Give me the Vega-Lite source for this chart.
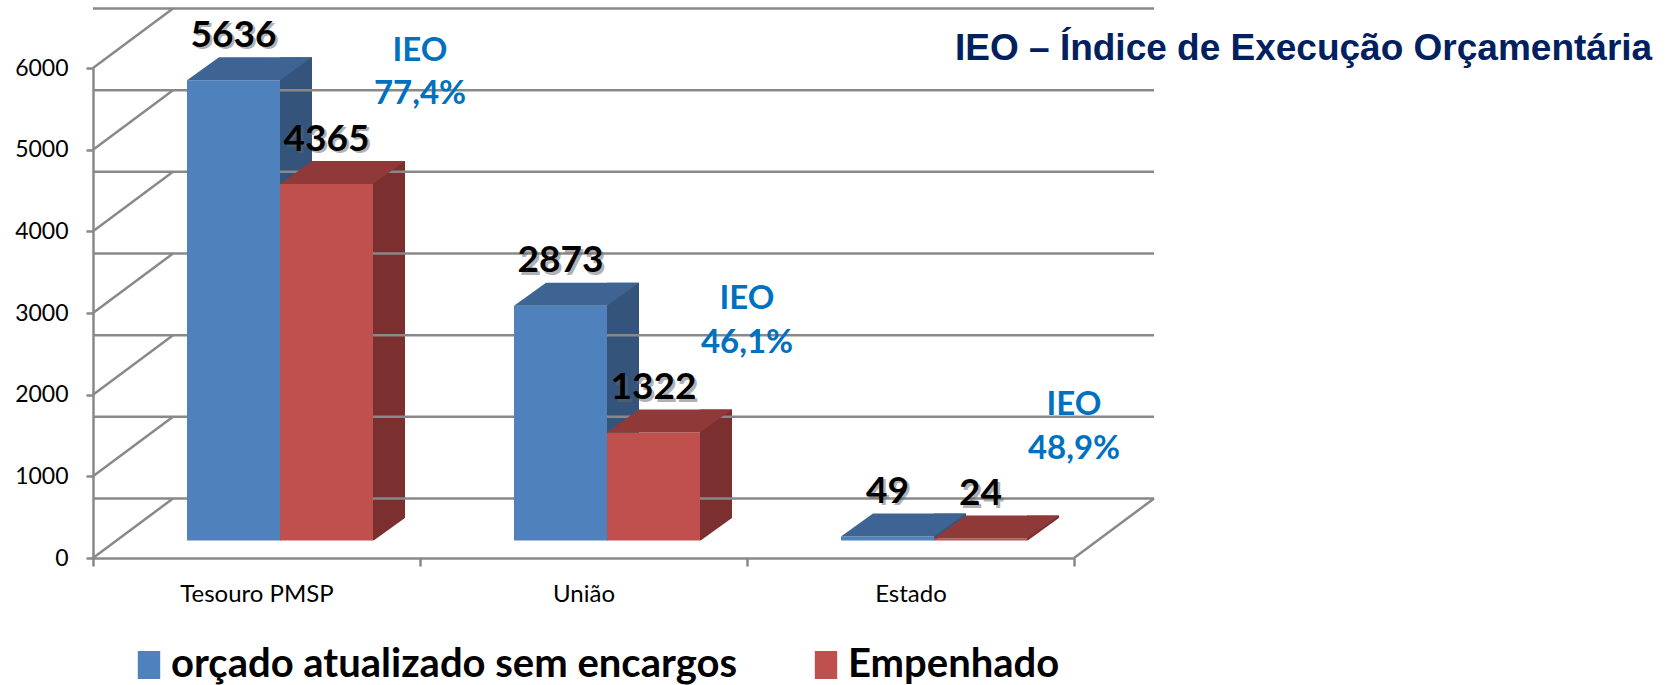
{
  "$schema": "https://vega.github.io/schema/vega-lite/v6.json",
  "width": 981,
  "height": 490,
  "autosize": {"type": "none"},
  "padding": {"left": 93, "top": 68, "right": 602, "bottom": 127},
  "background": "white",
  "config": {"view": {"stroke": null}, "font": "Lato"},
  "title": {
    "text": "IEO – Índice de Execução Orçamentária",
    "anchor": "start", "frame": "group", "orient": "top",
    "font": "Liberation Sans", "fontSize": 37, "fontWeight": "bold",
    "color": "#002060", "baseline": "alphabetic", "offset": -40, "dx": 862, "dy": 50
  },
  "datasets": {
    "bars": [
      {"cat": "Tesouro PMSP", "series": "orçado atualizado sem encargos", "value": 5636},
      {"cat": "Tesouro PMSP", "series": "Empenhado", "value": 4365, "ieo": "77,4%"},
      {"cat": "União", "series": "orçado atualizado sem encargos", "value": 2873},
      {"cat": "União", "series": "Empenhado", "value": 1322, "ieo": "46,1%"},
      {"cat": "Estado", "series": "orçado atualizado sem encargos", "value": 49},
      {"cat": "Estado", "series": "Empenhado", "value": 24, "ieo": "48,9%"}
    ],
    "grid": [{"v": 0}, {"v": 1000}, {"v": 2000}, {"v": 3000}, {"v": 4000}, {"v": 5000}, {"v": 6000}],
    "floor": [{"v": 0}]
  },
  "layer": [
    {
      "data": {"name": "bars"},
      "transform": [{"filter": "datum.series === 'orçado atualizado sem encargos'"}],
      "mark": {"type": "bar", "width": 32, "color": "#34547B", "xOffset": 39.5, "yOffset": -40.5, "y2Offset": -17.5},
      "encoding": {
        "x": {"field": "cat", "type": "nominal", "sort": ["Tesouro PMSP", "União", "Estado"], "title": null,
              "scale": {"paddingInner": 0, "paddingOuter": 0},
              "axis": {"domainColor": "#898989", "domainWidth": 2.5, "tickColor": "#898989", "tickWidth": 2.5, "tickSize": 8,
                       "tickBand": "extent", "labelFont": "Lato", "labelFontSize": 24, "labelColor": "#000",
                       "labelBaseline": "alphabetic", "labelPadding": 35, "labelAngle": 0, "grid": false}},
        "y": {"field": "value", "type": "quantitative", "title": null, "scale": {"domain": [0, 6000], "nice": false},
              "axis": {"values": [0, 1000, 2000, 3000, 4000, 5000, 6000], "format": "d", "domainColor": "#898989", "domainWidth": 2.5,
                       "tickColor": "#898989", "tickWidth": 2.5, "tickSize": 7, "labelFont": "Lato", "labelFontSize": 23,
                       "labelColor": "#000", "labelPadding": 18, "grid": false}},
        "y2": {"datum": 0}
      }
    },
    {
      "data": {"name": "bars"},
      "transform": [{"filter": "datum.series === 'Empenhado'"}],
      "mark": {"type": "bar", "width": 32, "color": "#7B2F2F", "xOffset": 132.5, "yOffset": -40.5, "y2Offset": -17.5},
      "encoding": {
        "x": {"field": "cat", "type": "nominal", "sort": ["Tesouro PMSP", "União", "Estado"], "title": null},
        "y": {"field": "value", "type": "quantitative", "title": null, "scale": {"domain": [0, 6000], "nice": false}},
        "y2": {"datum": 0}
      }
    },
    {
      "data": {"name": "bars"},
      "transform": [{"filter": "datum.series === 'orçado atualizado sem encargos'"}],
      "mark": {"type": "point", "shape": "M0,0.6L32.6,0.6L32.6,-23Z", "size": 4, "filled": true, "color": "white", "opacity": 1, "strokeWidth": 0, "xOffset": 23.5, "yOffset": -17.5},
      "encoding": {
        "x": {"field": "cat", "type": "nominal", "sort": ["Tesouro PMSP", "União", "Estado"], "title": null},
        "y": {"datum": 0, "type": "quantitative", "title": null, "scale": {"domain": [0, 6000], "nice": false}}
      }
    },
    {
      "data": {"name": "bars"},
      "transform": [{"filter": "datum.series === 'Empenhado'"}],
      "mark": {"type": "point", "shape": "M0,0.6L32.6,0.6L32.6,-23Z", "size": 4, "filled": true, "color": "white", "opacity": 1, "strokeWidth": 0, "xOffset": 116.5, "yOffset": -17.5},
      "encoding": {
        "x": {"field": "cat", "type": "nominal", "sort": ["Tesouro PMSP", "União", "Estado"], "title": null},
        "y": {"datum": 0, "type": "quantitative", "title": null, "scale": {"domain": [0, 6000], "nice": false}}
      }
    },
    {
      "data": {"name": "grid"},
      "mark": {"type": "rule", "color": "#898989", "strokeWidth": 2.5, "xOffset": 80, "x2Offset": 80, "yOffset": -59.5},
      "encoding": {
        "y": {"field": "v", "type": "quantitative", "title": null, "scale": {"domain": [0, 6000], "nice": false}}
      }
    },
    {
      "data": {"name": "grid"},
      "mark": {"type": "rule", "color": "#898989", "strokeWidth": 2.5, "x2Offset": 80, "y2Offset": -59.5},
      "encoding": {
        "x": {"datum": "Tesouro PMSP", "type": "nominal", "bandPosition": 0, "title": null},
        "x2": {"datum": "Tesouro PMSP", "bandPosition": 0},
        "y": {"field": "v", "type": "quantitative", "title": null, "scale": {"domain": [0, 6000], "nice": false}},
        "y2": {"field": "v"}
      }
    },
    {
      "data": {"name": "floor"},
      "mark": {"type": "rule", "color": "#898989", "strokeWidth": 2.5, "x2Offset": 80, "y2Offset": -59.5},
      "encoding": {
        "x": {"datum": "Estado", "type": "nominal", "bandPosition": 1, "title": null},
        "x2": {"datum": "Estado", "bandPosition": 1},
        "y": {"field": "v", "type": "quantitative", "title": null, "scale": {"domain": [0, 6000], "nice": false}},
        "y2": {"field": "v"}
      }
    },
    {
      "data": {"name": "bars"},
      "transform": [{"filter": "datum.series === 'orçado atualizado sem encargos'"}],
      "mark": {"type": "bar", "width": 93, "xOffset": -23, "yOffset": -17.5, "y2Offset": -17.5, "opacity": 1},
      "encoding": {
        "x": {"field": "cat", "type": "nominal", "sort": ["Tesouro PMSP", "União", "Estado"], "title": null},
        "y": {"field": "value", "type": "quantitative", "title": null, "scale": {"domain": [0, 6000], "nice": false}},
        "y2": {"datum": 0},
        "color": {"field": "series", "type": "nominal",
                  "scale": {"domain": ["orçado atualizado sem encargos", "Empenhado"], "range": ["#4F81BD", "#C0504D"]},
                  "legend": {"orient": "none", "legendX": 36, "legendY": 577, "direction": "horizontal", "title": null,
                             "labelFont": "Lato", "labelFontSize": 40, "labelFontWeight": "bold", "labelColor": "#000",
                             "labelLimit": 0, "symbolType": "M-0.8,-1L0.8,-1L0.8,1L-0.8,1Z", "symbolSize": 784,
                             "symbolStrokeWidth": 0, "symbolOpacity": 1, "labelOffset": 2, "columnPadding": 69}}
      }
    },
    {
      "data": {"name": "bars"},
      "transform": [{"filter": "datum.series === 'Empenhado'"}],
      "mark": {"type": "bar", "width": 93, "xOffset": 70, "yOffset": -17.5, "y2Offset": -17.5, "opacity": 1},
      "encoding": {
        "x": {"field": "cat", "type": "nominal", "sort": ["Tesouro PMSP", "União", "Estado"], "title": null},
        "y": {"field": "value", "type": "quantitative", "title": null, "scale": {"domain": [0, 6000], "nice": false}},
        "y2": {"datum": 0},
        "color": {"field": "series", "type": "nominal",
                  "scale": {"domain": ["orçado atualizado sem encargos", "Empenhado"], "range": ["#4F81BD", "#C0504D"]}}
      }
    },
    {
      "data": {"name": "bars"},
      "transform": [{"filter": "datum.series === 'orçado atualizado sem encargos'"}],
      "mark": {"type": "point", "shape": "M-46.5,0L46.5,0L78.5,-23L-14.5,-23Z", "size": 4, "filled": true, "color": "#3E6494", "opacity": 1, "strokeWidth": 0, "xOffset": -23, "yOffset": -17.5},
      "encoding": {
        "x": {"field": "cat", "type": "nominal", "sort": ["Tesouro PMSP", "União", "Estado"], "title": null},
        "y": {"field": "value", "type": "quantitative", "title": null, "scale": {"domain": [0, 6000], "nice": false}}
      }
    },
    {
      "data": {"name": "bars"},
      "transform": [{"filter": "datum.series === 'Empenhado'"}],
      "mark": {"type": "point", "shape": "M-46.5,0L46.5,0L78.5,-23L-14.5,-23Z", "size": 4, "filled": true, "color": "#8F3A39", "opacity": 1, "strokeWidth": 0, "xOffset": 70, "yOffset": -17.5},
      "encoding": {
        "x": {"field": "cat", "type": "nominal", "sort": ["Tesouro PMSP", "União", "Estado"], "title": null},
        "y": {"field": "value", "type": "quantitative", "title": null, "scale": {"domain": [0, 6000], "nice": false}}
      }
    },
    {
      "data": {"name": "bars"},
      "transform": [{"filter": "datum.series === 'orçado atualizado sem encargos'"}],
      "mark": {"type": "text", "font": "Lato", "fontSize": 37, "fontWeight": "bold", "color": "#666", "opacity": 0.5, "baseline": "alphabetic", "align": "center", "xOffset": -20.5, "yOffset": -48.5},
      "encoding": {
        "x": {"field": "cat", "type": "nominal", "sort": ["Tesouro PMSP", "União", "Estado"], "title": null},
        "y": {"field": "value", "type": "quantitative", "title": null, "scale": {"domain": [0, 6000], "nice": false}},
        "text": {"field": "value", "type": "quantitative", "format": "d"}
      }
    },
    {
      "data": {"name": "bars"},
      "transform": [{"filter": "datum.series === 'Empenhado'"}],
      "mark": {"type": "text", "font": "Lato", "fontSize": 37, "fontWeight": "bold", "color": "#666", "opacity": 0.5, "baseline": "alphabetic", "align": "center", "xOffset": 72.5, "yOffset": -48.5},
      "encoding": {
        "x": {"field": "cat", "type": "nominal", "sort": ["Tesouro PMSP", "União", "Estado"], "title": null},
        "y": {"field": "value", "type": "quantitative", "title": null, "scale": {"domain": [0, 6000], "nice": false}},
        "text": {"field": "value", "type": "quantitative", "format": "d"}
      }
    },
    {
      "data": {"name": "bars"},
      "transform": [{"filter": "datum.series === 'orçado atualizado sem encargos'"}],
      "mark": {"type": "text", "font": "Lato", "fontSize": 37, "fontWeight": "bold", "color": "#000", "baseline": "alphabetic", "align": "center", "xOffset": -23, "yOffset": -51},
      "encoding": {
        "x": {"field": "cat", "type": "nominal", "sort": ["Tesouro PMSP", "União", "Estado"], "title": null},
        "y": {"field": "value", "type": "quantitative", "title": null, "scale": {"domain": [0, 6000], "nice": false}},
        "text": {"field": "value", "type": "quantitative", "format": "d"}
      }
    },
    {
      "data": {"name": "bars"},
      "transform": [{"filter": "datum.series === 'Empenhado'"}],
      "mark": {"type": "text", "font": "Lato", "fontSize": 37, "fontWeight": "bold", "color": "#000", "baseline": "alphabetic", "align": "center", "xOffset": 70, "yOffset": -51},
      "encoding": {
        "x": {"field": "cat", "type": "nominal", "sort": ["Tesouro PMSP", "União", "Estado"], "title": null},
        "y": {"field": "value", "type": "quantitative", "title": null, "scale": {"domain": [0, 6000], "nice": false}},
        "text": {"field": "value", "type": "quantitative", "format": "d"}
      }
    },
    {
      "data": {"name": "bars"},
      "transform": [{"filter": "datum.series === 'Empenhado'"}],
      "mark": {"type": "text", "font": "Lato", "fontSize": 33, "fontWeight": "bold", "color": "#0070C0", "baseline": "middle", "align": "center", "xOffset": 0, "yOffset": -151},
      "encoding": {
        "x": {"field": "cat", "type": "nominal", "sort": ["Tesouro PMSP", "União", "Estado"], "bandPosition": 1, "title": null},
        "y": {"field": "value", "type": "quantitative", "title": null, "scale": {"domain": [0, 6000], "nice": false}},
        "text": {"value": "IEO"}
      }
    },
    {
      "data": {"name": "bars"},
      "transform": [{"filter": "datum.series === 'Empenhado'"}],
      "mark": {"type": "text", "font": "Lato", "fontSize": 33, "fontWeight": "bold", "color": "#0070C0", "baseline": "middle", "align": "center", "xOffset": 0, "yOffset": -107.5},
      "encoding": {
        "x": {"field": "cat", "type": "nominal", "sort": ["Tesouro PMSP", "União", "Estado"], "bandPosition": 1, "title": null},
        "y": {"field": "value", "type": "quantitative", "title": null, "scale": {"domain": [0, 6000], "nice": false}},
        "text": {"field": "ieo", "type": "nominal"}
      }
    }
  ]
}
